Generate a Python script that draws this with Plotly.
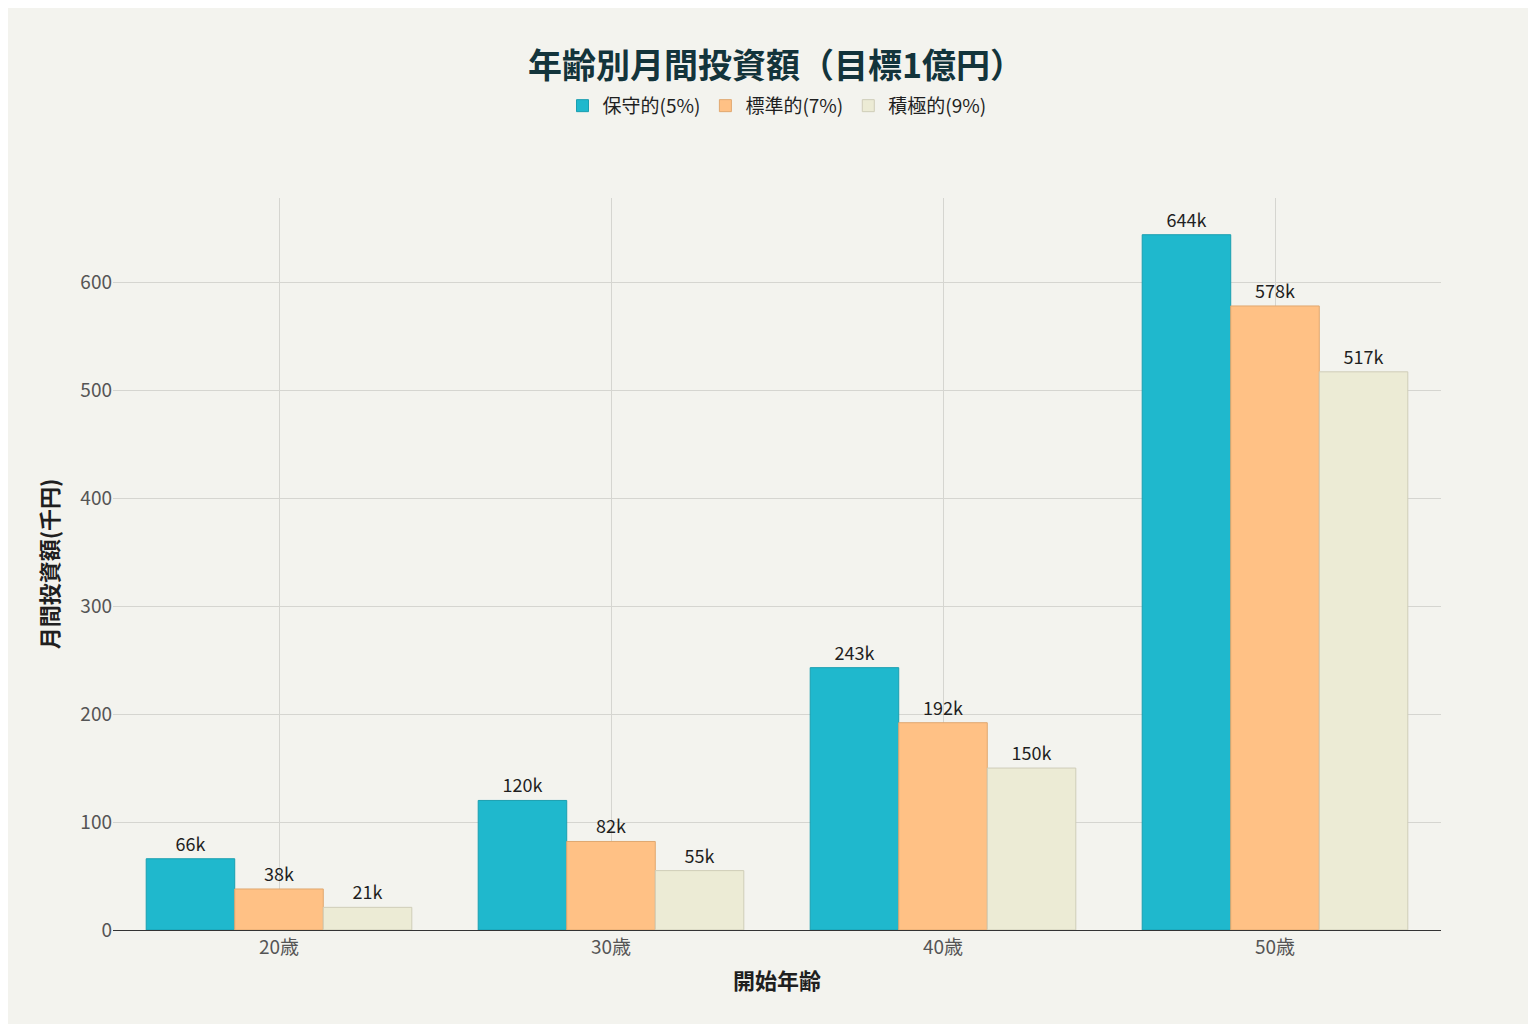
import plotly.graph_objects as go

ages = ["20歳", "30歳", "40歳", "50歳"]
series_names = ["保守的(5%)", "標準的(7%)", "積極的(9%)"]
conservative = [66, 120, 243, 644]
standard = [38, 82, 192, 578]
aggressive = [21, 55, 150, 517]
colors = ["#1FB8CD", "#FFC185", "#ECEBD5"]
lines = ["#1a9fb0", "#e0a870", "#cfcdb8"]

fig = go.Figure()
for name, vals, c, lc in zip(series_names, [conservative, standard, aggressive], colors, lines):
    fig.add_trace(go.Bar(
        x=ages, y=vals, name=name,
        marker=dict(color=c, line=dict(color=lc, width=1)),
        text=[f"{v}k" for v in vals], textposition="outside",
        textfont=dict(size=18, color="#1f1f1f"), cliponaxis=False,
    ))

fig.update_layout(
    width=1536, height=1024,
    font=dict(family="Noto Sans CJK JP", size=18, color="#1f1f1f"),
    title=dict(text="<b>年齢別月間投資額（目標1億円）</b>", x=0.5, y=0.955,
               font=dict(size=34, color="#13343B")),
    legend=dict(orientation="h", x=0.5, xanchor="center", y=1.1, yanchor="bottom",
                font=dict(size=19)),
    barmode="group", bargap=0.2, bargroupgap=0,
    paper_bgcolor="#F3F3EE", plot_bgcolor="#F3F3EE",
    margin=dict(l=105, r=103, t=190, b=102),
)
fig.update_xaxes(title=dict(text="<b>開始年齢</b>", font=dict(size=22)),
                 showgrid=True, gridcolor="#d5d5d0", showline=True, linecolor="#333",
                 tickfont=dict(size=19, color="#555"))
fig.update_yaxes(title=dict(text="<b>月間投資額(千円)</b>", font=dict(size=22)),
                 range=[0, 678], dtick=100, gridcolor="#d5d5d0", zeroline=False,
                 tickfont=dict(size=19, color="#555"))

fig.write_html("out.html")
